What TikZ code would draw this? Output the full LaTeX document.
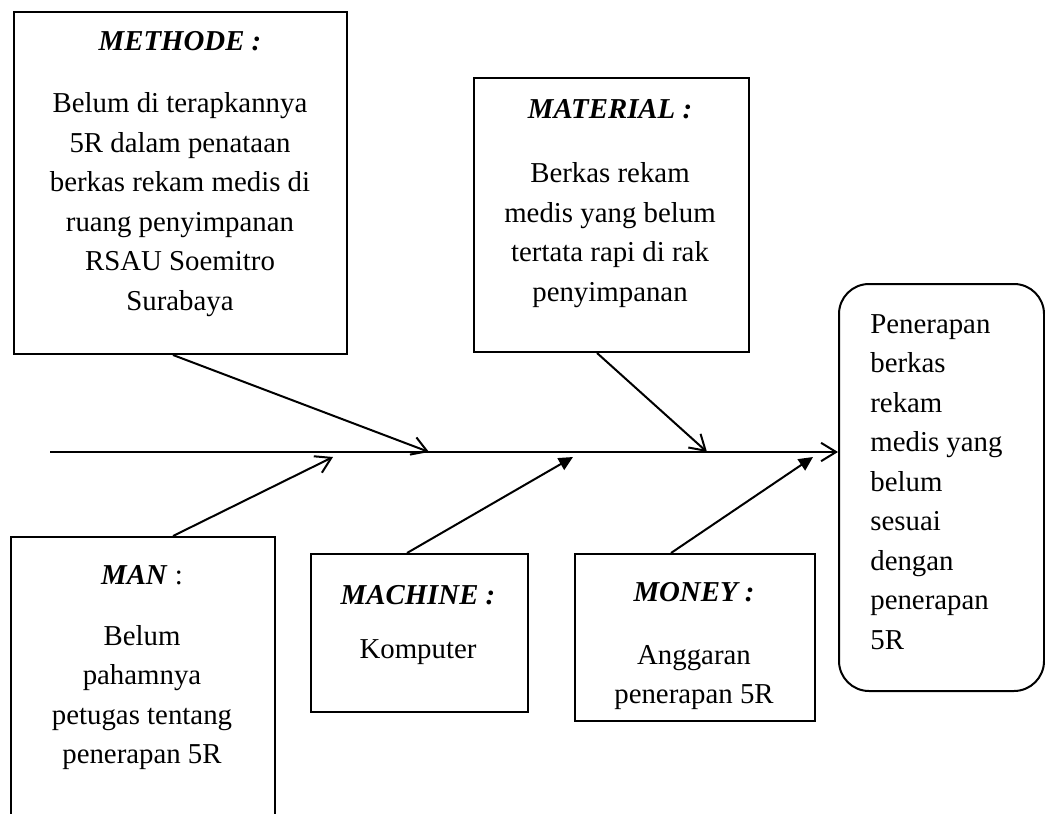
\documentclass[tikz,border=0pt]{standalone}
\usepackage{fontspec}
\setmainfont{Liberation Serif}
\usetikzlibrary{arrows.meta,calc}
\begin{document}
\begin{tikzpicture}[x=0.6pt,y=-0.6pt,
  box/.style={draw, line width=1.2pt, inner sep=0pt, anchor=north west},
  txt/.style={anchor=base, inner sep=0pt, font=\fontsize{17.3}{23.7}\selectfont},
  ttl/.style={anchor=base, inner sep=0pt, font=\fontsize{17.3}{23.7}\selectfont\bfseries\itshape},
  bone/.style={line width=1.2pt},
  openarr/.style={bone, -{Straight Barb[length=9pt,width=11pt,line width=1.2pt]}},
  fillarr/.style={bone, -{Triangle[length=8.5pt,width=8pt]}}]
\useasboundingbox (0,0) rectangle (1045,813);
\clip (0,0) rectangle (1045,813);

% boxes
\node[box, minimum width=199.8pt, minimum height=205.2pt] (methode) at (13,11) {};
\node[box, minimum width=165pt, minimum height=164.4pt] (material) at (473,77) {};
\node[box, minimum width=123pt, minimum height=244.2pt, rounded corners=18pt] (effect) at (838,283) {};
\node[box, minimum width=158.4pt, minimum height=174pt] (man) at (10,536) {};
\node[box, minimum width=130.2pt, minimum height=94.8pt] (machine) at (310,553) {};
\node[box, minimum width=144pt, minimum height=100.2pt] (money) at (574,553) {};

% texts
\renewcommand{\arraystretch}{1}
\setlength{\tabcolsep}{0pt}
\node[ttl] (methodeT) at (180,51) {METHODE :};
\node[txt] (methodeB) at (180,113) {\begin{tabular}[t]{c}Belum di terapkannya\\5R dalam penataan\\berkas rekam medis di\\ruang penyimpanan\\RSAU Soemitro\\Surabaya\end{tabular}};

\node[ttl] (materialT) at (610,119) {MATERIAL :};
\node[txt] (materialB) at (610,183) {\begin{tabular}[t]{c}Berkas rekam\\medis yang belum\\tertata rapi di rak\\penyimpanan\end{tabular}};

\node[txt, anchor=base west] (effectT) at (870,333) {\begin{tabular}[t]{l}Penerapan\\berkas\\rekam\\medis yang\\belum\\sesuai\\dengan\\penerapan\\5R\end{tabular}};

\node[txt] (manT) at (142,584) {\textbf{\textit{MAN}} :};
\node[txt] (manB) at (142,645) {\begin{tabular}[t]{c}Belum\\pahamnya\\petugas tentang\\penerapan 5R\end{tabular}};

\node[ttl] (machineT) at (418,604) {MACHINE :};
\node[txt] (machineB) at (418,658) {Komputer};

\node[ttl] (moneyT) at (694,601) {MONEY :};
\node[txt] (moneyB) at (694,664) {\begin{tabular}[t]{c}Anggaran\\penerapan 5R\end{tabular}};

% spine
\coordinate (tail) at (50,452);
\draw[openarr] (tail) -- (tail -| effect.west);

% bones
\coordinate (pMethode) at (429,452);
\coordinate (pMaterial) at (707,452);
\coordinate (pMan) at (333,457);
\coordinate (pMachine) at (573,457);
\coordinate (pMoney) at (813,457);
\draw[openarr] ($(methode.south west)+(160,0)$) -- (pMethode);
\draw[openarr] ($(material.south west)+(124,0)$) -- (pMaterial);
\draw[openarr] ($(man.north west)+(163,0)$) -- (pMan);
\draw[fillarr] ($(machine.north west)+(97,0)$) -- (pMachine);
\draw[fillarr] ($(money.north west)+(97,0)$) -- (pMoney);
\end{tikzpicture}
\end{document}
